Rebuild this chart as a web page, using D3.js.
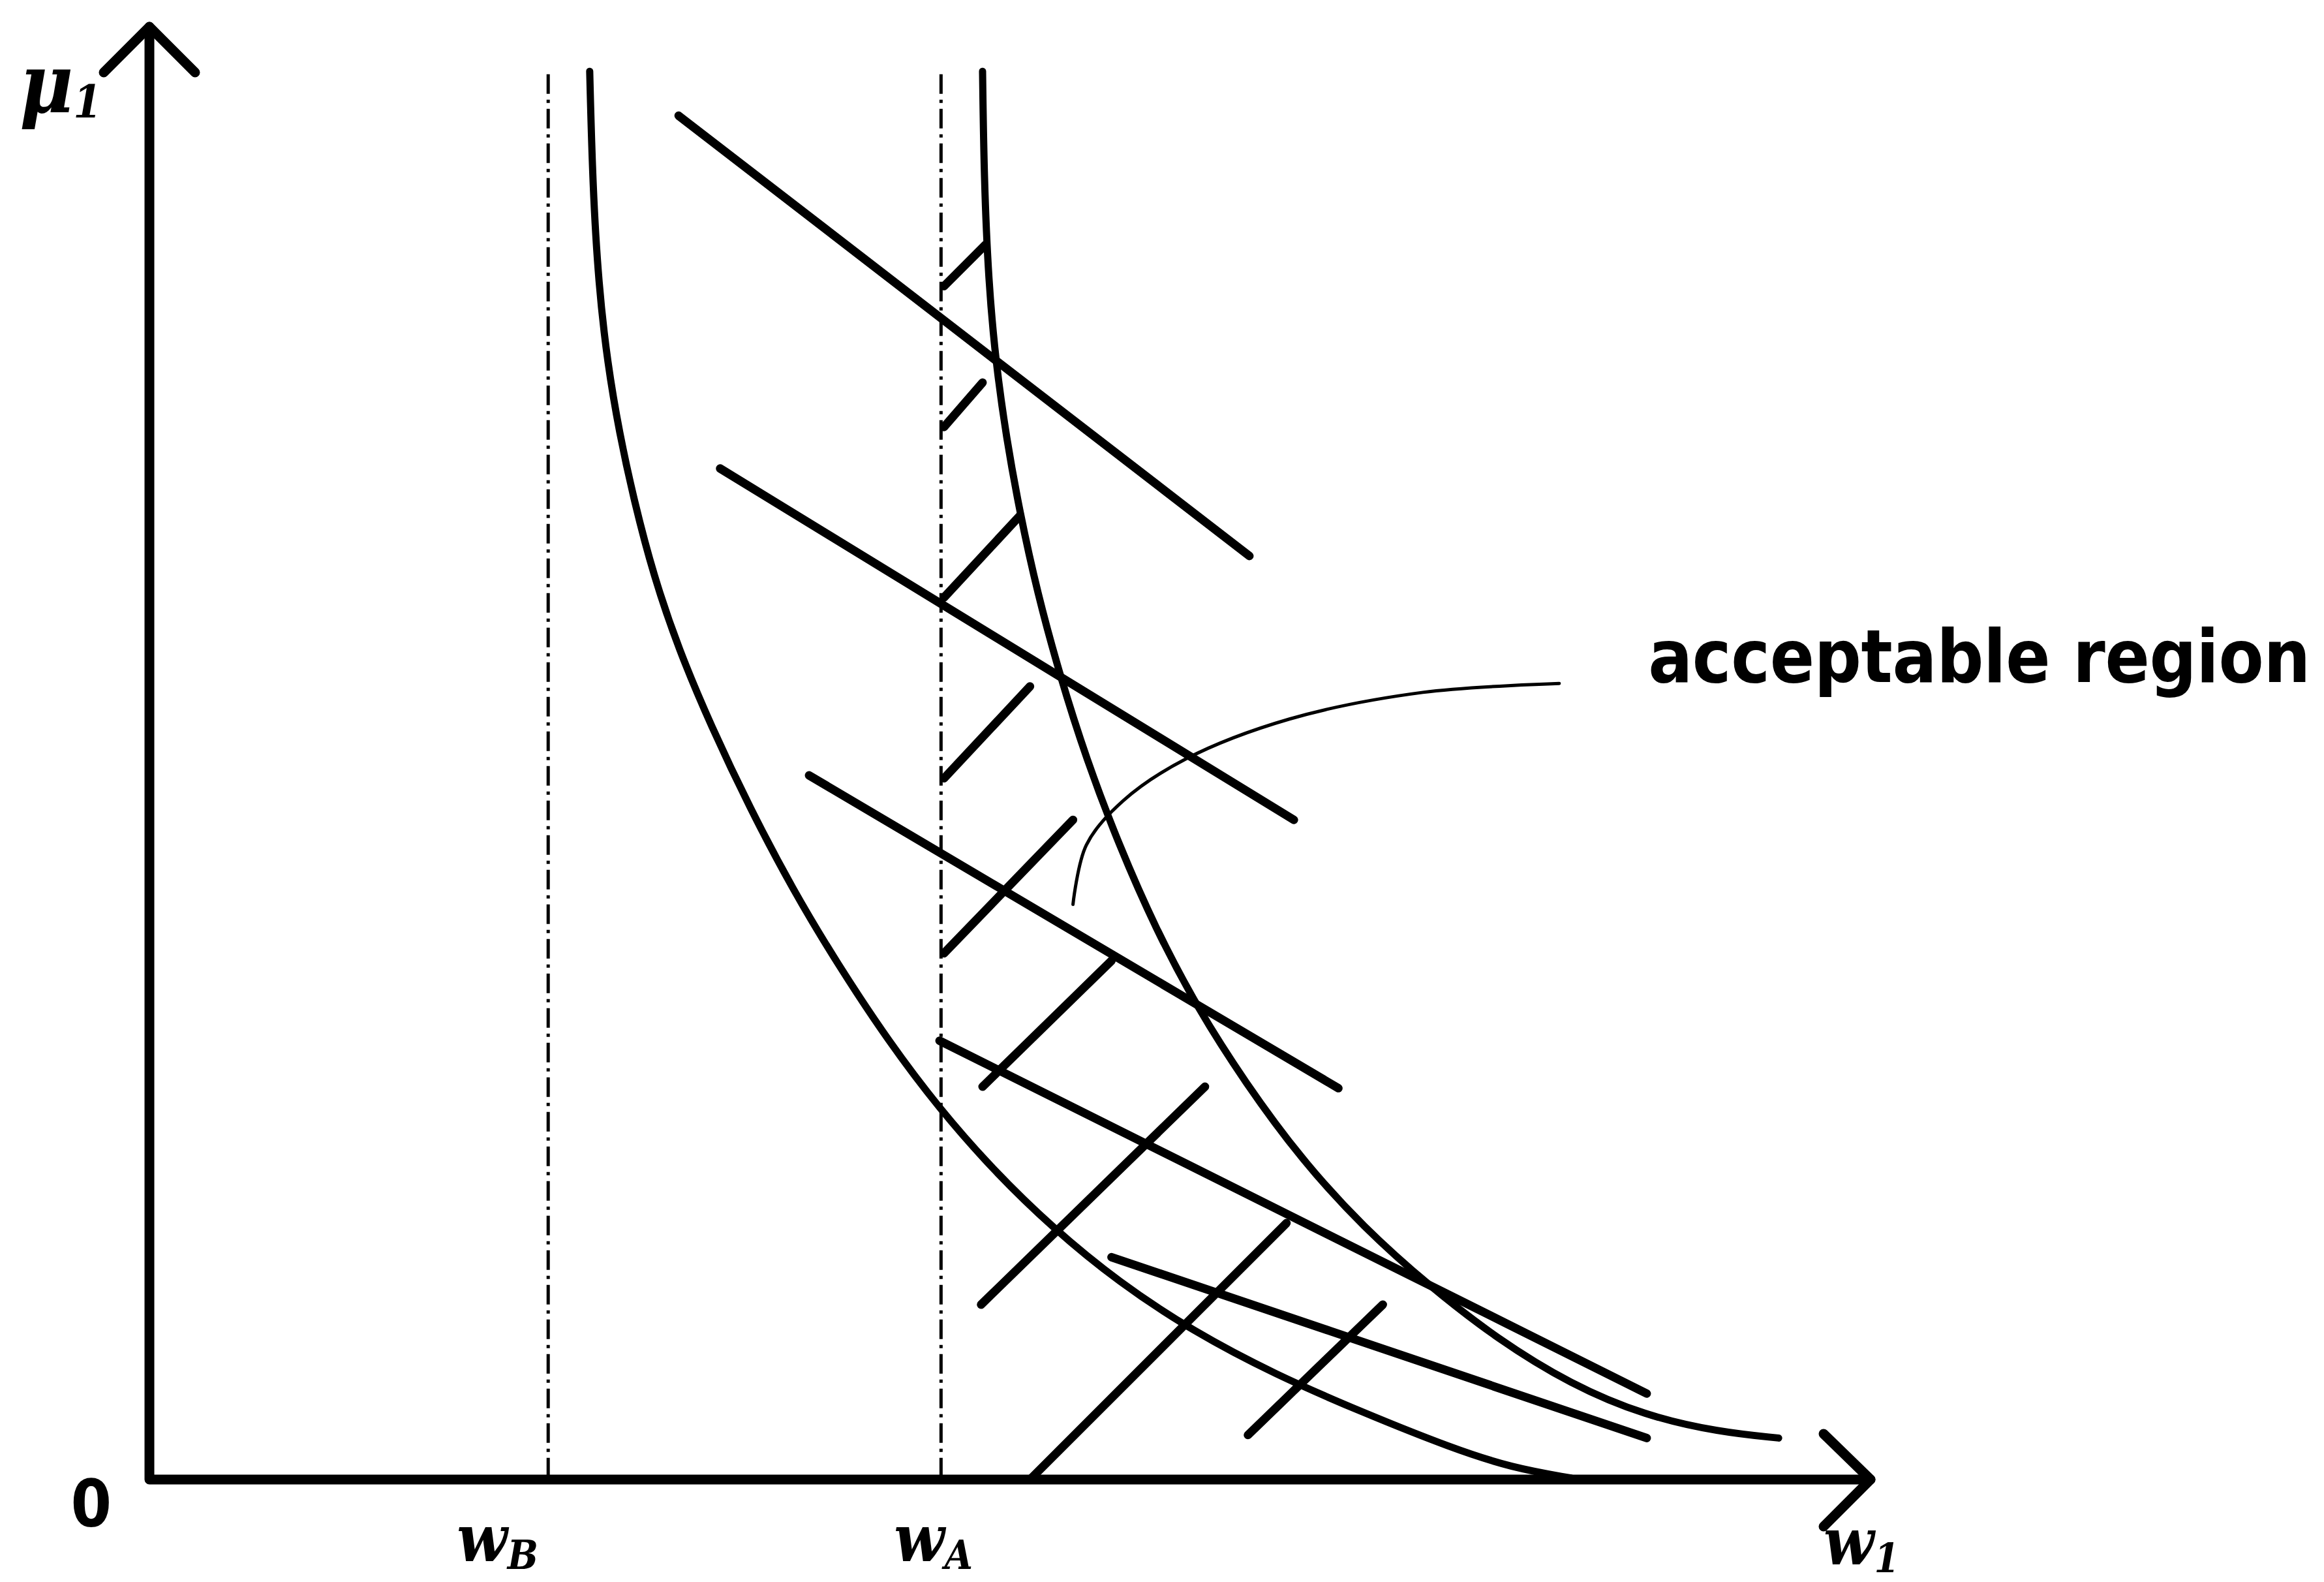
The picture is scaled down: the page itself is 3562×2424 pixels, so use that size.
<!DOCTYPE html>
<html><head><meta charset="utf-8">
<script src="https://cdn.jsdelivr.net/npm/d3@7"></script>
<style>html,body{margin:0;padding:0;background:#fff;}svg{display:block;}</style>
</head><body>
<svg id="chart" width="3562" height="2424"></svg>
<script>
// ---- data (abstract diagram units) ----
const xAxisMax = 11.61;
const yAxisMax = 9.80;
const wB = 2.69;
const wA = 5.34;
const dashTop = 9.48;
const tickLabels = [{v: wB, t: "w", s: "B", dx: -140}, {v: wA, t: "w", s: "A", dx: -72}];
const outerCurve = [[2.97,9.50],[2.99,8.73],[3.03,8.06],[3.09,7.53],[3.17,7.06],[3.27,6.60],[3.40,6.10],[3.57,5.60],[3.79,5.08],[4.05,4.53],[4.34,3.98],[4.64,3.48],[4.99,2.95],[5.33,2.50],[5.69,2.09],[6.09,1.70],[6.54,1.33],[7.04,1.00],[7.59,0.71],[8.19,0.45],[8.79,0.21],[9.19,0.08],[9.59,0.01]];
const innerCurve = [[5.62,9.50],[5.63,8.78],[5.66,8.08],[5.71,7.53],[5.78,7.03],[5.87,6.53],[5.99,5.98],[6.14,5.43],[6.32,4.86],[6.54,4.28],[6.79,3.71],[7.07,3.18],[7.39,2.68],[7.77,2.16],[8.19,1.70],[8.64,1.30],[9.09,0.95],[9.59,0.64],[10.09,0.43],[10.59,0.32],[10.99,0.28]];
const longLines = [
  [[3.57,9.20],[7.42,6.23]],
  [[3.85,6.82],[7.72,4.45]],
  [[4.45,4.75],[8.02,2.64]],
  [[5.33,2.96],[10.10,0.58]],
  [[6.49,1.50],[10.10,0.28]]
];
const hatchLines = [
  [[5.36,8.05],[5.64,8.33]],
  [[5.36,7.10],[5.62,7.40]],
  [[5.36,5.95],[5.87,6.50]],
  [[5.36,4.73],[5.94,5.35]],
  [[5.36,3.55],[6.23,4.45]],
  [[5.62,2.65],[6.49,3.50]],
  [[5.61,1.18],[7.12,2.65]],
  [[5.94,0.00],[7.67,1.73]],
  [[7.41,0.30],[8.32,1.18]]
];
const callout = [[6.23,3.88],[6.32,4.28],[6.57,4.58],[6.99,4.86],[7.69,5.13],[8.59,5.31],[9.51,5.37]];
const calloutText = "acceptable region";

// ---- drawing ----
const svg = d3.select("#chart");
const x = d3.scaleLinear().domain([0, xAxisMax]).range([229, 2867]);
const y = d3.scaleLinear().domain([0, yAxisMax]).range([2267, 41]);
const line = d3.line().x(d => x(d[0])).y(d => y(d[1]));
const basis = d3.line().x(d => x(d[0])).y(d => y(d[1])).curve(d3.curveBasis);
const smooth = d3.line().x(d => x(d[0])).y(d => y(d[1])).curve(d3.curveCatmullRom.alpha(0.5));

svg.append("rect").attr("width", 3562).attr("height", 2424).attr("fill", "#fff");

// dashed verticals
svg.selectAll(".dash").data([wB, wA]).join("line")
  .attr("x1", d => x(d)).attr("x2", d => x(d))
  .attr("y1", y(dashTop)).attr("y2", y(0))
  .attr("stroke", "#000").attr("stroke-width", 5)
  .attr("stroke-dasharray", "30,9,5,9");

// curves
[outerCurve, innerCurve].forEach(c => {
  svg.append("path").attr("d", basis(c)).attr("fill", "none")
    .attr("stroke", "#000").attr("stroke-width", 11).attr("stroke-linecap", "round");
});

// long lines
svg.selectAll(".long").data(longLines).join("path")
  .attr("d", d => line(d)).attr("fill", "none")
  .attr("stroke", "#000").attr("stroke-width", 13).attr("stroke-linecap", "round");

// hatch lines
svg.selectAll(".hatch").data(hatchLines).join("path")
  .attr("d", d => line(d)).attr("fill", "none")
  .attr("stroke", "#000").attr("stroke-width", 13).attr("stroke-linecap", "round");

// callout
svg.append("path").attr("d", smooth(callout)).attr("fill", "none")
  .attr("stroke", "#000").attr("stroke-width", 5).attr("stroke-linecap", "round");

// axes
const axisG = svg.append("g").attr("stroke", "#000").attr("fill", "none").attr("stroke-linecap", "round").attr("stroke-linejoin", "round");
axisG.append("path").attr("d", line([[0, yAxisMax],[0,0],[xAxisMax,0]])).attr("stroke-width", 15);
axisG.append("path").attr("d", `M${x(0)-70},${y(yAxisMax)+70}L${x(0)},${y(yAxisMax)}L${x(0)+70},${y(yAxisMax)+70}`).attr("stroke-width", 15);
axisG.append("path").attr("d", `M${x(xAxisMax)-72},${y(0)-70}L${x(xAxisMax)},${y(0)}L${x(xAxisMax)-72},${y(0)+72}`).attr("stroke-width", 15);

// labels
const serif = "'DejaVu Serif Condensed', 'Liberation Serif', serif";
const narrow = "'Liberation Sans Narrow','DejaVu Sans Condensed','DejaVu Sans',sans-serif";
svg.append("text").attr("x", x(0) - 58).attr("y", y(0) + 72)
  .attr("text-anchor", "end").attr("font-family", narrow)
  .attr("font-weight", "bold").attr("font-size", 100).text("0");

const mu = svg.append("text").attr("x", 30).attr("y", 172)
  .attr("font-family", serif).attr("font-style", "italic").attr("font-weight", "bold").attr("font-size", 125);
mu.append("tspan").text("μ");
mu.append("tspan").attr("font-size", 70).attr("dy", 8).text("1");

tickLabels.forEach(d => {
  const t = svg.append("text").attr("x", x(d.v) + d.dx).attr("y", y(0) + 125)
    .attr("font-family", serif).attr("font-style", "italic").attr("font-weight", "bold").attr("font-size", 100);
  t.append("tspan").text(d.t);
  t.append("tspan").attr("font-size", 62).attr("dy", 12).text(d.s);
});
const w1 = svg.append("text").attr("x", x(xAxisMax) - 72).attr("y", y(0) + 130)
  .attr("font-family", serif).attr("font-style", "italic").attr("font-weight", "bold").attr("font-size", 100);
w1.append("tspan").text("w");
w1.append("tspan").attr("font-size", 62).attr("dy", 12).text("1");

svg.append("text").attr("x", x(10.11)).attr("y", y(5.38))
  .attr("font-family", narrow).attr("font-weight", "bold")
  .attr("font-size", 112).attr("textLength", 1015).attr("lengthAdjust", "spacing")
  .text(calloutText);
</script>
</body></html>
